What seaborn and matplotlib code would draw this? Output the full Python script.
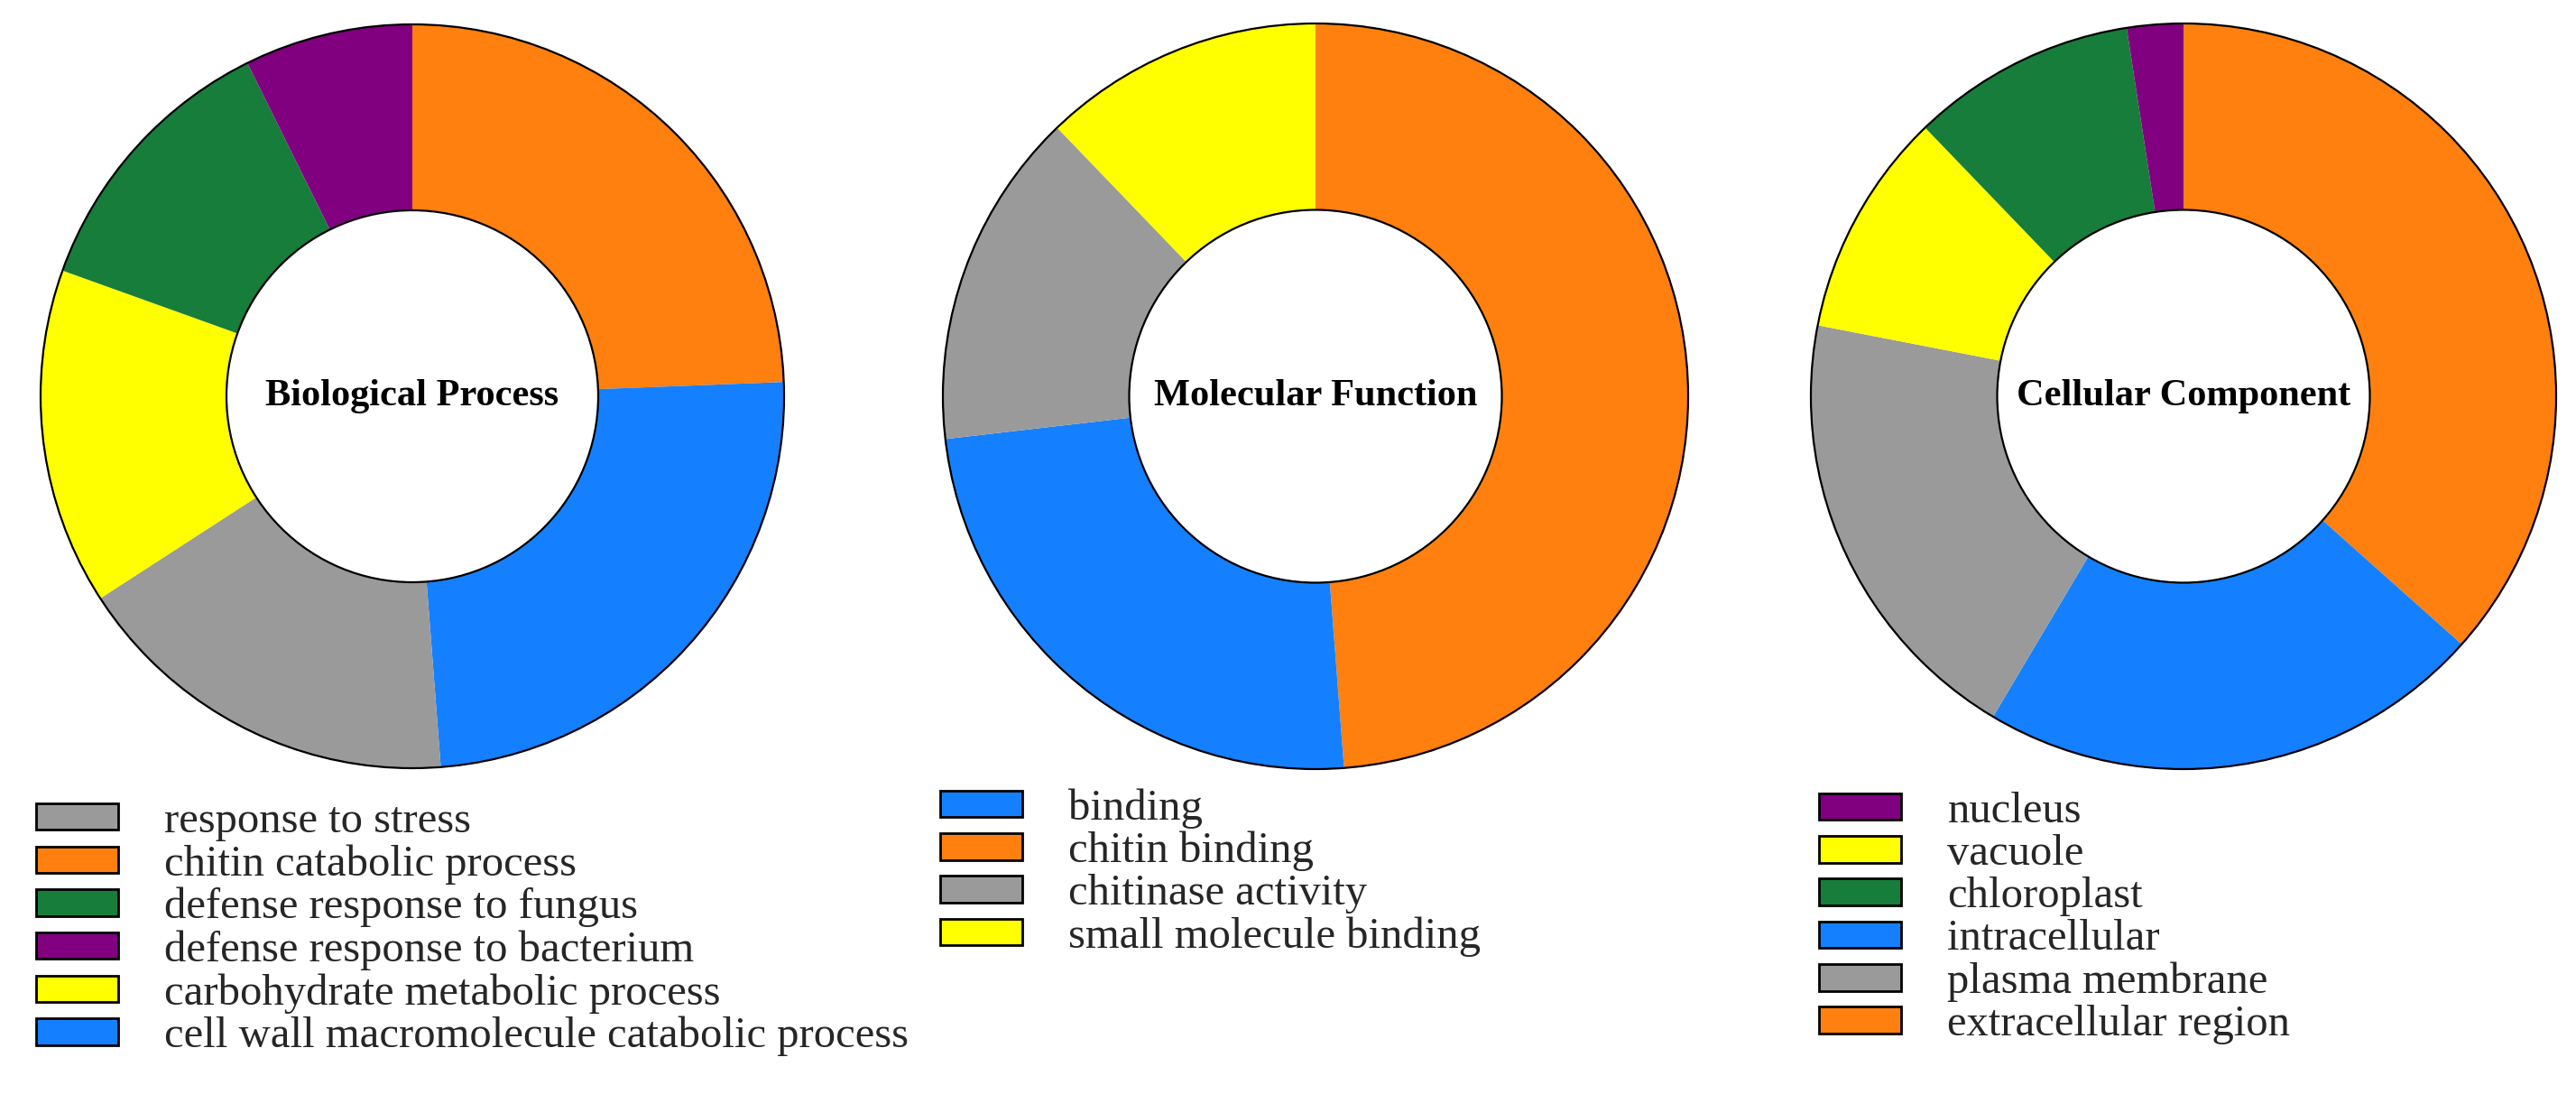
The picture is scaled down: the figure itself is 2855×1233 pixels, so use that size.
import matplotlib
matplotlib.use("Agg")
import matplotlib.pyplot as plt
from matplotlib.patches import Patch, Circle
import seaborn as sns

sns.set_theme(style="white")
plt.rcParams['font.family'] = ['Liberation Serif', 'DejaVu Serif']

# colours used by the GO slim chart
ORANGE = '#FF800E'
BLUE = '#1480FF'
GRAY = '#9A9A9A'
YELLOW = '#FFFF00'
GREEN = '#177D3A'
PURPLE = '#800080'

# Biological Process (legend order)
bp_labels = ['response to stress', 'chitin catabolic process',
             'defense response to fungus', 'defense response to bacterium',
             'carbohydrate metabolic process',
             'cell wall macromolecule catabolic process']
bp_counts = [7, 10, 5, 3, 6, 10]
bp_colors = [GRAY, ORANGE, GREEN, PURPLE, YELLOW, BLUE]
bp_pie_order = [1, 5, 0, 4, 2, 3]

# Molecular Function
mf_labels = ['binding', 'chitin binding', 'chitinase activity',
             'small molecule binding']
mf_counts = [10, 20, 6, 5]
mf_colors = [BLUE, ORANGE, GRAY, YELLOW]
mf_pie_order = [1, 0, 2, 3]

# Cellular Component
cc_labels = ['nucleus', 'vacuole', 'chloroplast', 'intracellular',
             'plasma membrane', 'extracellular region']
cc_counts = [1, 4, 4, 9, 8, 15]
cc_colors = [PURPLE, YELLOW, GREEN, BLUE, GRAY, ORANGE]
cc_pie_order = [5, 3, 4, 1, 2, 0]

W, H = 2855, 1233
fig = plt.figure(figsize=(W / 100, H / 100), dpi=100)
fig.patch.set_facecolor('white')


def donut(cx, cy, r, title, counts, colors, order):
    pad = 1.02
    ax = fig.add_axes([(cx - r * pad) / W, 1 - (cy + r * pad) / H,
                       2 * r * pad / W, 2 * r * pad / H])
    ax.pie([counts[i] for i in order], colors=[colors[i] for i in order],
           startangle=90, counterclock=False, radius=1,
           wedgeprops=dict(width=0.5, linewidth=0))
    ax.add_patch(Circle((0, 0), 1, fill=False, ec='black', lw=1.6))
    ax.add_patch(Circle((0, 0), 0.5, fill=False, ec='black', lw=1.6))
    ax.set_xlim(-pad, pad)
    ax.set_ylim(-pad, pad)
    ax.set_aspect('equal')
    ax.axis('off')
    ax.text(0, 0, title, ha='center', va='center', fontsize=30.5,
            fontweight='bold', color='black')


def legend(x, y, labels, colors):
    handles = [Patch(facecolor=c, edgecolor='black', linewidth=2) for c in colors]
    fig.legend(handles=handles, labels=labels, loc='upper left',
               bbox_to_anchor=(x / W, 1 - y / H), frameon=False, fontsize=35,
               handlelength=1.88, handleheight=0.55, handletextpad=1.05,
               labelspacing=0.065, borderpad=0, borderaxespad=0)


donut(457, 439, 412, 'Biological Process', bp_counts, bp_colors, bp_pie_order)
donut(1458, 439, 413, 'Molecular Function', mf_counts, mf_colors, mf_pie_order)
donut(2420, 439, 413, 'Cellular Component', cc_counts, cc_colors, cc_pie_order)

legend(40, 888, bp_labels, bp_colors)
legend(1042, 873, mf_labels, mf_colors)
legend(2016, 877, cc_labels, cc_colors)

fig.savefig('out.png', dpi=100)
